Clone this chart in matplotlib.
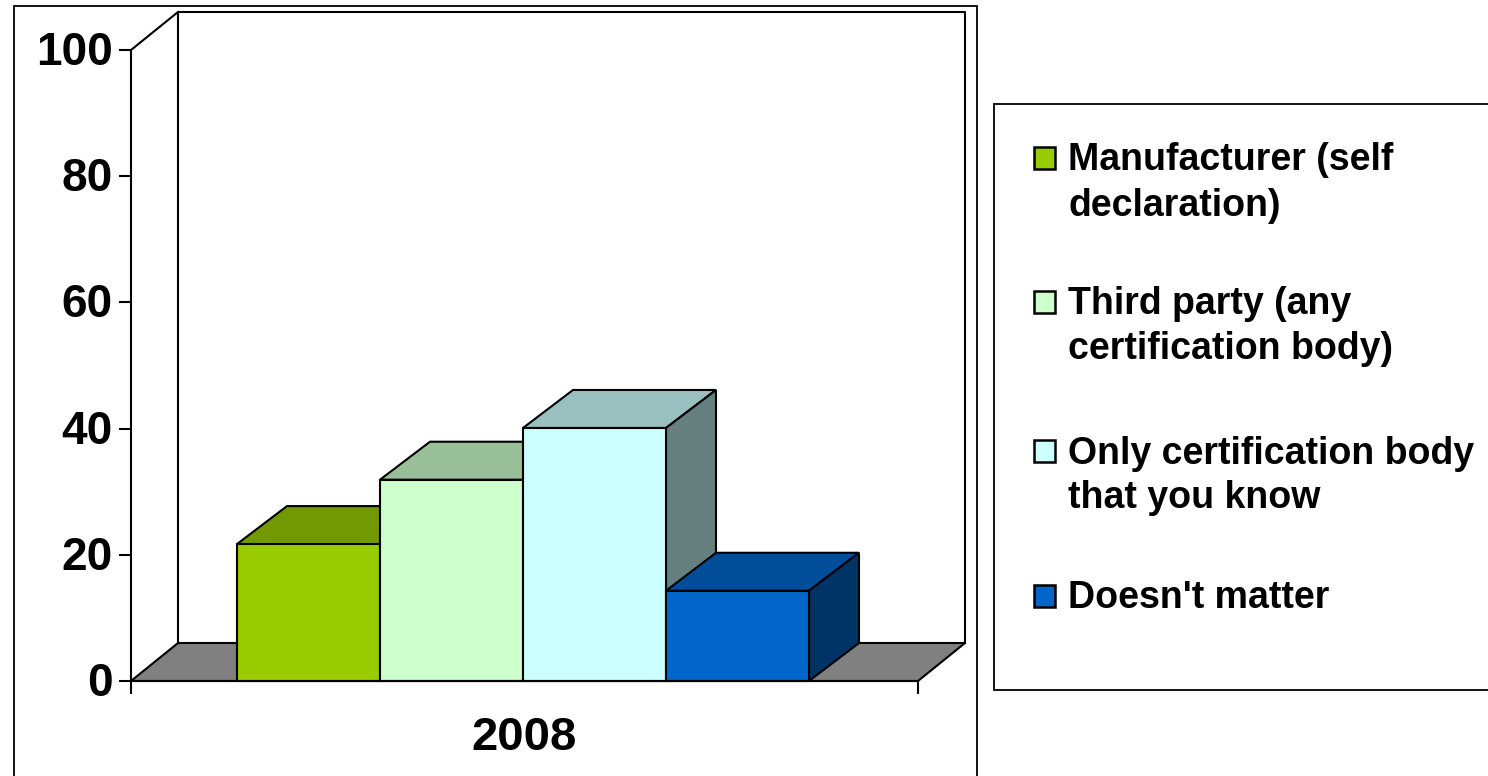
import matplotlib
matplotlib.use("Agg")
import matplotlib.pyplot as plt
from matplotlib.patches import Polygon, Rectangle
from matplotlib.lines import Line2D
from matplotlib.transforms import ScaledTranslation

plt.rcParams['font.family'] = ['Liberation Sans', 'DejaVu Sans']

categories = ["Manufacturer (self\ndeclaration)", "Third party (any\ncertification body)",
              "Only certification body\nthat you know", "Doesn't matter"]
values = [21.7, 31.9, 40.1, 14.3]
front_colors = ["#99CC00", "#CCFFCC", "#CCFFFF", "#0066CC"]
top_colors = ["#739900", "#99BF99", "#99BFBF", "#004D99"]
side_colors = ["#4D6600", "#668066", "#668080", "#003366"]
y_ticks = [0, 20, 40, 60, 80, 100]
x_label = "2008"

W, H = 1488, 776
fig = plt.figure(figsize=(W / 100, H / 100), dpi=100, facecolor="white")

def px_rect(x0, y0, x1, y1):
    return [x0 / W, 1 - y1 / H, (x1 - x0) / W, (y1 - y0) / H]

LW = 1.5

# outer chart frame and legend frame
fig.add_artist(Rectangle((14 / W, -0.01), (977 - 14) / W, 1 - 6 / H + 0.01, transform=fig.transFigure,
                         fc="white", ec="black", lw=1.3, zorder=-2))
fig.add_artist(Rectangle((994 / W, 1 - 690 / H), 600 / W, (690 - 104) / H, transform=fig.transFigure,
                         fc="white", ec="black", lw=1.3, zorder=-2))

ax = fig.add_axes(px_rect(131, 50, 918, 681))
ax.patch.set_visible(False)
ax.set_xlim(-106 / 143, 4 + 109 / 143)
ax.set_ylim(0, 100)
for s in ["top", "right"]:
    ax.spines[s].set_visible(False)
for s in ["left", "bottom"]:
    ax.spines[s].set_linewidth(LW)
ax.set_yticks(y_ticks)
ax.set_yticklabels([str(t) for t in y_ticks], fontsize=33, fontweight="bold", va="center_baseline")
ax.tick_params(axis="y", length=9, width=LW, pad=4, direction="out")
shift = ScaledTranslation(0, 2 / 100, fig.dpi_scale_trans)
for lab in ax.get_yticklabels():
    lab.set_transform(lab.get_transform() + shift)
x0, x1 = ax.get_xlim()
ax.set_xticks([x0, x1])
ax.set_xticklabels(["", ""])
ax.tick_params(axis="x", length=9, width=LW)
ax.text(2.01, -5.6, x_label, fontsize=34, fontweight="bold", ha="center", va="top", clip_on=False)

wall_dx = 47 / 143
bar_dx = 50 / 143
dy = 38 / 631 * 100
kw = dict(ec="black", lw=LW, clip_on=False, joinstyle="miter")

# back wall, floor and depth ticks
ax.add_patch(Polygon([(x0, 0), (x1, 0), (x1 + wall_dx, dy), (x0 + wall_dx, dy)], fc="#808080", **kw))
ax.add_line(Line2D([x0 + wall_dx, x0 + wall_dx, x1 + wall_dx, x1 + wall_dx], [dy, 100 + dy, 100 + dy, dy],
                   color="black", lw=LW, clip_on=False))
ax.add_line(Line2D([x0, x0 + wall_dx], [100, 100 + dy], color="black", lw=LW, clip_on=False))

# bars
for i, v in enumerate(values):
    ax.add_patch(Polygon([(i, v), (i + 1, v), (i + 1 + bar_dx, v + dy), (i + bar_dx, v + dy)], fc=top_colors[i], **kw))
    ax.add_patch(Polygon([(i + 1, 0), (i + 1 + bar_dx, dy), (i + 1 + bar_dx, v + dy), (i + 1, v)], fc=side_colors[i], **kw))
    ax.add_patch(Rectangle((i, 0), 1, v, fc=front_colors[i], **kw))

# legend
legend_y = [158, 302, 451, 596]
line_gap = 45
for name, c, y in zip(categories, front_colors, legend_y):
    fig.add_artist(Rectangle((1033.5 / W, 1 - (y + 11) / H), 21.5 / W, 22 / H, transform=fig.transFigure,
                             fc=c, ec="black", lw=1.8))
    for k, part in enumerate(name.split("\n")):
        fig.text(1068 / W, 1 - (y + 2.5 + k * line_gap) / H, part, fontsize=27, fontweight="bold",
                 ha="left", va="center")

fig.savefig("out.png", dpi=100)
